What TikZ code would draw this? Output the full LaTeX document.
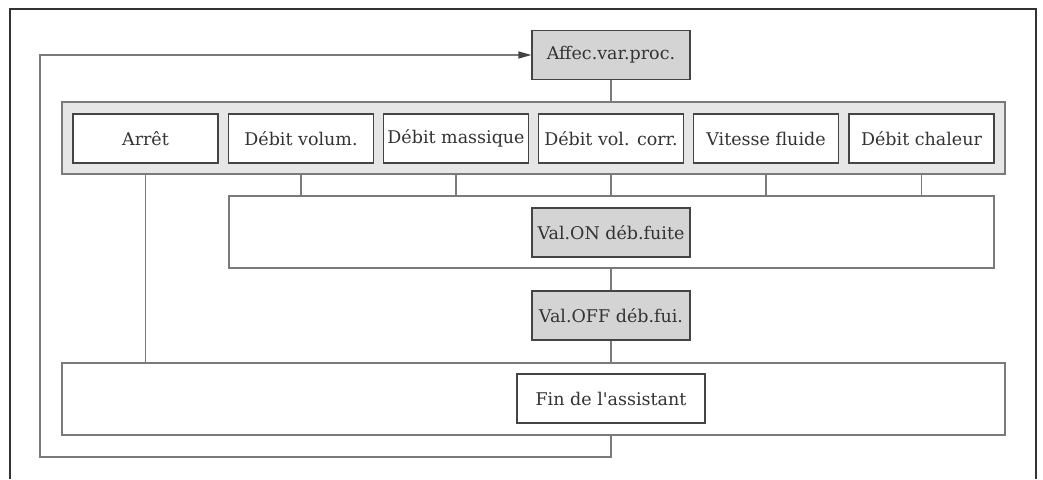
\documentclass[tikz,border=0pt]{standalone}
\usepackage{fontspec}
\newfontfamily\dvs{DejaVu Serif}
\usetikzlibrary{arrows.meta}
\definecolor{boxgray}{HTML}{D4D4D4}
\definecolor{grpgray}{HTML}{E6E6E7}
\definecolor{edge}{HTML}{444444}
\definecolor{lgray}{HTML}{7A7A7A}
\definecolor{txt}{HTML}{333333}
\tikzset{
  every node/.style={font=\dvs\fontsize{17.5}{19}\selectfont, text=txt},
  pbox/.style={draw=edge, line width=1.1pt, fill=boxgray, minimum width=158pt, minimum height=49pt, inner sep=0pt},
  wbox/.style={draw=edge, line width=1.1pt, fill=white, minimum height=49pt, inner sep=0pt},
  bigbox/.style={draw=lgray, line width=1.3pt, fill=white, minimum height=72pt, inner sep=0pt},
  grpbox/.style={draw=lgray, line width=1.3pt, fill=grpgray, minimum height=72pt, inner sep=0pt},
  conn/.style={draw=lgray, line width=1.2pt},
  frame/.style={draw=black!80, line width=1.3pt}
}
\begin{document}
\begin{tikzpicture}[x=1pt,y=-1pt]
\useasboundingbox (0,0) rectangle (1043,479);
\draw[frame] (10,479) -- (10,9) -- (1036,9) -- (1036,479);
\node[pbox] (affec) at (611,55) {Affec.var.proc.};
\node[grpbox, minimum width=943pt] (grp) at (533.5,138) {};
\node[wbox, minimum width=145pt] (b1) at (145.5,138.5) {Arrêt};
\node[wbox, minimum width=145pt] (b2) at (301,138.5) {Débit volum.};
\node[wbox, minimum width=145pt] (b3) at (456,138.5) {Débit massique};
\node[wbox, minimum width=145pt] (b4) at (611,138.5) {Débit vol. corr.};
\node[wbox, minimum width=145pt] (b5) at (766,138.5) {Vitesse fluide};
\node[wbox, minimum width=145pt] (b6) at (921.5,138.5) {Débit chaleur};
\node[bigbox, minimum width=765pt] (onbig) at (611.5,232) {};
\node[pbox] (on) at (611,232.5) {Val.ON déb.fuite};
\node[pbox] (off) at (611,315.5) {Val.OFF déb.fui.};
\node[bigbox, minimum width=943pt] (finbig) at (533.5,399) {};
\node[wbox, minimum width=188pt] (fin) at (611,398.5) {Fin de l'assistant};
\coordinate (lb) at (40,457);
\coordinate (lt) at (40,55);
\draw[conn] (affec.south) -- (affec.south |- grp.north);
\foreach \b in {b2,b3,b4,b5,b6}{
  \draw[conn] (\b |- grp.south) -- (\b |- onbig.north);
}
\draw[conn] (b1 |- grp.south) -- (b1 |- finbig.north);
\draw[conn] (off |- onbig.south) -- (off.north);
\draw[conn] (off.south) -- (off |- finbig.north);
\draw[conn, -{Stealth[length=13pt,width=7pt,inset=0pt,color=edge]}] (fin |- finbig.south) -- (fin |- lb) -- (lb) -- (lt) -- (affec.west);
\end{tikzpicture}
\end{document}
